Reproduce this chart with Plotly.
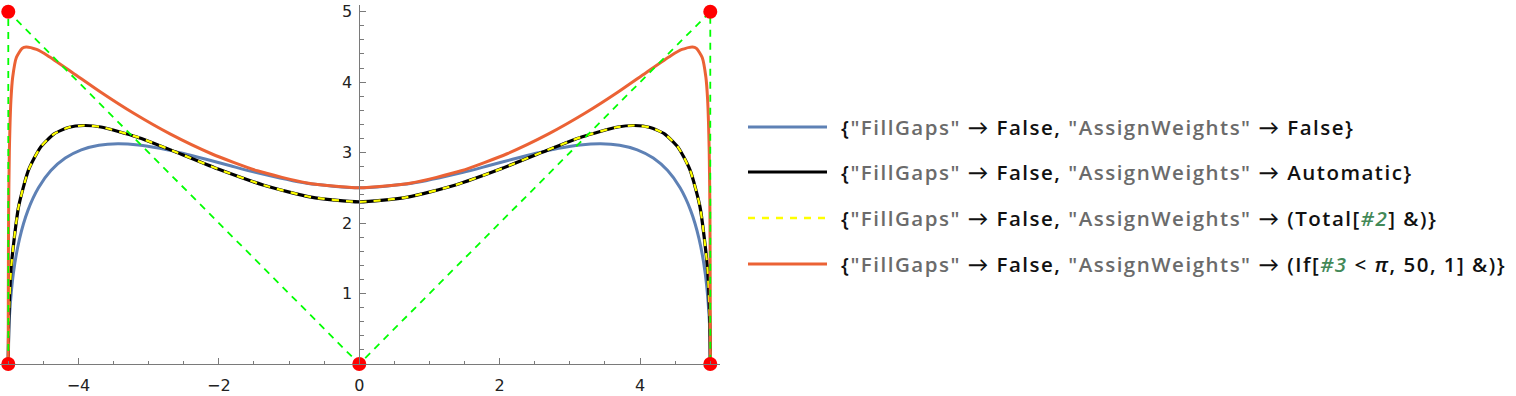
import plotly.graph_objects as go

# ---------------- data ----------------
ctrl_x = [-5, -5, 0, 5, 5]
ctrl_y = [0, 5, 0, 5, 0]

blue_x = [-5.000, -4.997, -4.982, -4.928, -4.840, -4.720, -4.570, -4.393, -4.188, -3.960,
          -3.709, -3.438, -3.147, -2.840, -2.518, -2.183, -1.836, -1.480, -0.748, 0.000,
          0.748, 1.480, 1.836, 2.183, 2.518, 2.840, 3.147, 3.438, 3.709, 3.960, 4.188,
          4.393, 4.570, 4.720, 4.840, 4.928, 4.982, 4.997, 5.000]
blue_y = [0.000, 0.291, 0.695, 1.285, 1.777, 2.180, 2.500, 2.745, 2.923, 3.040,
          3.105, 3.125, 3.108, 3.060, 2.990, 2.905, 2.813, 2.720, 2.565, 2.500,
          2.565, 2.720, 2.813, 2.905, 2.990, 3.060, 3.108, 3.125, 3.105, 3.040, 2.923,
          2.745, 2.500, 2.180, 1.777, 1.285, 0.695, 0.291, 0.000]

black_x = [-5.000, -4.992, -4.957, -4.853, -4.711, -4.542, -4.352, -4.144, -3.920, -3.682,
           -3.167, -2.605, -2.001, -1.359, -0.688, 0.000,
           0.688, 1.359, 2.001, 2.605, 3.167, 3.682, 3.920, 4.144, 4.352, 4.542, 4.711,
           4.853, 4.957, 4.992, 5.000]
black_y = [0.000, 0.649, 1.395, 2.233, 2.754, 3.075, 3.263, 3.357, 3.385, 3.364,
           3.223, 3.006, 2.763, 2.537, 2.369, 2.302,
           2.369, 2.537, 2.763, 3.006, 3.223, 3.364, 3.385, 3.357, 3.263, 3.075, 2.754,
           2.233, 1.395, 0.649, 0.000]

orange_x = [-5.000, -5.000, -4.999, -4.995, -4.985, -4.962, -4.937, -4.885, -4.803, -4.746,
            -4.597, -4.438, -4.085, -3.681, -3.219, -2.696, -2.106, -1.452, -0.743, 0.000,
            0.743, 1.452, 2.106, 2.696, 3.219, 3.681, 4.085, 4.438, 4.597, 4.746, 4.803,
            4.885, 4.937, 4.962, 4.985, 4.995, 4.999, 5.000, 5.000]
orange_y = [0.000, 0.653, 1.156, 2.150, 3.009, 3.750, 4.073, 4.350, 4.480, 4.500,
            4.464, 4.375, 4.135, 3.856, 3.561, 3.265, 2.984, 2.742, 2.568, 2.500,
            2.568, 2.742, 2.984, 3.265, 3.561, 3.856, 4.135, 4.375, 4.464, 4.500, 4.480,
            4.350, 4.073, 3.750, 3.009, 2.150, 1.156, 0.653, 0.000]

x_tickvals = [-4, -2, 0, 2, 4]
y_tickvals = [1, 2, 3, 4, 5]

GRAY_TXT = "#6b6b6b"
SLOT = "#438958"
legend_labels = [
    f'{{<span style="color:{GRAY_TXT}">"FillGaps"</span> \u2192 False, <span style="color:{GRAY_TXT}">"AssignWeights"</span> \u2192 False}}',
    f'{{<span style="color:{GRAY_TXT}">"FillGaps"</span> \u2192 False, <span style="color:{GRAY_TXT}">"AssignWeights"</span> \u2192 Automatic}}',
    f'{{<span style="color:{GRAY_TXT}">"FillGaps"</span> \u2192 False, <span style="color:{GRAY_TXT}">"AssignWeights"</span> \u2192 (Total[<span style="color:{SLOT}"><i>#2</i></span>] &amp;)}}',
    f'{{<span style="color:{GRAY_TXT}">"FillGaps"</span> \u2192 False, <span style="color:{GRAY_TXT}">"AssignWeights"</span> \u2192 (If[<span style="color:{SLOT}"><i>#3</i></span> &lt; <i>\u03c0</i>, 50, 1] &amp;)}}',
]

# ---------------- styling ----------------
BLUE = "#5e81b5"
ORANGE = "#eb6235"
YELLOW = "#ffff00"
GREEN = "#00ff00"
RED = "#ff0000"
AXIS = "#7a7a7a"

W, H = 1516, 396
PLOT_W = 720
M_T, M_B = 5, 32
PLOT_H = H - M_T - M_B
xr = [-5.118, -5.118 + PLOT_W / 70.2]
yr = [0, PLOT_H / 70.46]

fig = go.Figure()
sm = 0.6
fig.add_trace(go.Scatter(x=blue_x, y=blue_y, mode="lines",
                         line=dict(color=BLUE, width=3, shape="spline", smoothing=sm)))
fig.add_trace(go.Scatter(x=black_x, y=black_y, mode="lines",
                         line=dict(color="black", width=3.2, shape="spline", smoothing=sm)))
fig.add_trace(go.Scatter(x=black_x, y=black_y, mode="lines",
                         line=dict(color=YELLOW, width=2.2, shape="spline", smoothing=sm, dash="7px,7px")))
fig.add_trace(go.Scatter(x=orange_x, y=orange_y, mode="lines",
                         line=dict(color=ORANGE, width=3, shape="spline", smoothing=sm)))
fig.add_trace(go.Scatter(x=ctrl_x, y=ctrl_y, mode="lines",
                         line=dict(color=GREEN, width=1.8, dash="7px,6px")))
fig.add_trace(go.Scatter(x=ctrl_x, y=ctrl_y, mode="markers", cliponaxis=False,
                         marker=dict(color=RED, size=14, line=dict(width=0))))


def px_x(p):
    return p / PLOT_W


def px_y(p):
    return (M_T + PLOT_H - p) / PLOT_H


row_y = [127, 172, 218, 264]
line_styles = [dict(color=BLUE, width=3), dict(color="black", width=3),
               dict(color=YELLOW, width=2.5, dash="7px,7px"), dict(color=ORANGE, width=3)]
for ry, lab, ls in zip(row_y, legend_labels, line_styles):
    fig.add_shape(type="line", xref="paper", yref="paper",
                  x0=px_x(748), x1=px_x(827), y0=px_y(ry), y1=px_y(ry), line=ls)
    fig.add_annotation(xref="paper", yref="paper", x=px_x(839), y=px_y(ry),
                       xanchor="left", yanchor="middle", showarrow=False,
                       text='<span style="letter-spacing:1.5px">' + lab + '</span>',
                       font=dict(family="'Open Sans', Lato, sans-serif", size=20.5,
                                 color="#111111", weight=600))

zero_frac = (0 - xr[0]) / (xr[1] - xr[0])

fig.update_layout(
    width=W, height=H,
    margin=dict(l=0, r=W - PLOT_W, t=M_T, b=M_B),
    paper_bgcolor="white", plot_bgcolor="white",
    showlegend=False,
    xaxis=dict(range=xr, showgrid=False, zeroline=False, showline=True, linecolor=AXIS, linewidth=1,
               tickmode="array", tickvals=x_tickvals, ticks="inside", ticklen=6, tickcolor=AXIS,
               ticklabelstandoff=7,
               tickfont=dict(family="DejaVu Sans", size=16, color="#222222"),
               minor=dict(dtick=0.5, ticks="inside", ticklen=3.5, tickcolor=AXIS, showgrid=False)),
    yaxis=dict(range=yr, showgrid=False, zeroline=False, showline=True, linecolor=AXIS, linewidth=1,
               anchor="free", position=zero_frac,
               tickmode="array", tickvals=y_tickvals, ticks="inside", ticklen=6, tickcolor=AXIS,
               ticklabelstandoff=4,
               tickfont=dict(family="DejaVu Sans", size=16, color="#222222"),
               minor=dict(dtick=0.2, ticks="inside", ticklen=3.5, tickcolor=AXIS, showgrid=False)),
)

fig.write_html("out.html", config={"displayModeBar": False},
               post_script="document.body.style.margin='0';")
